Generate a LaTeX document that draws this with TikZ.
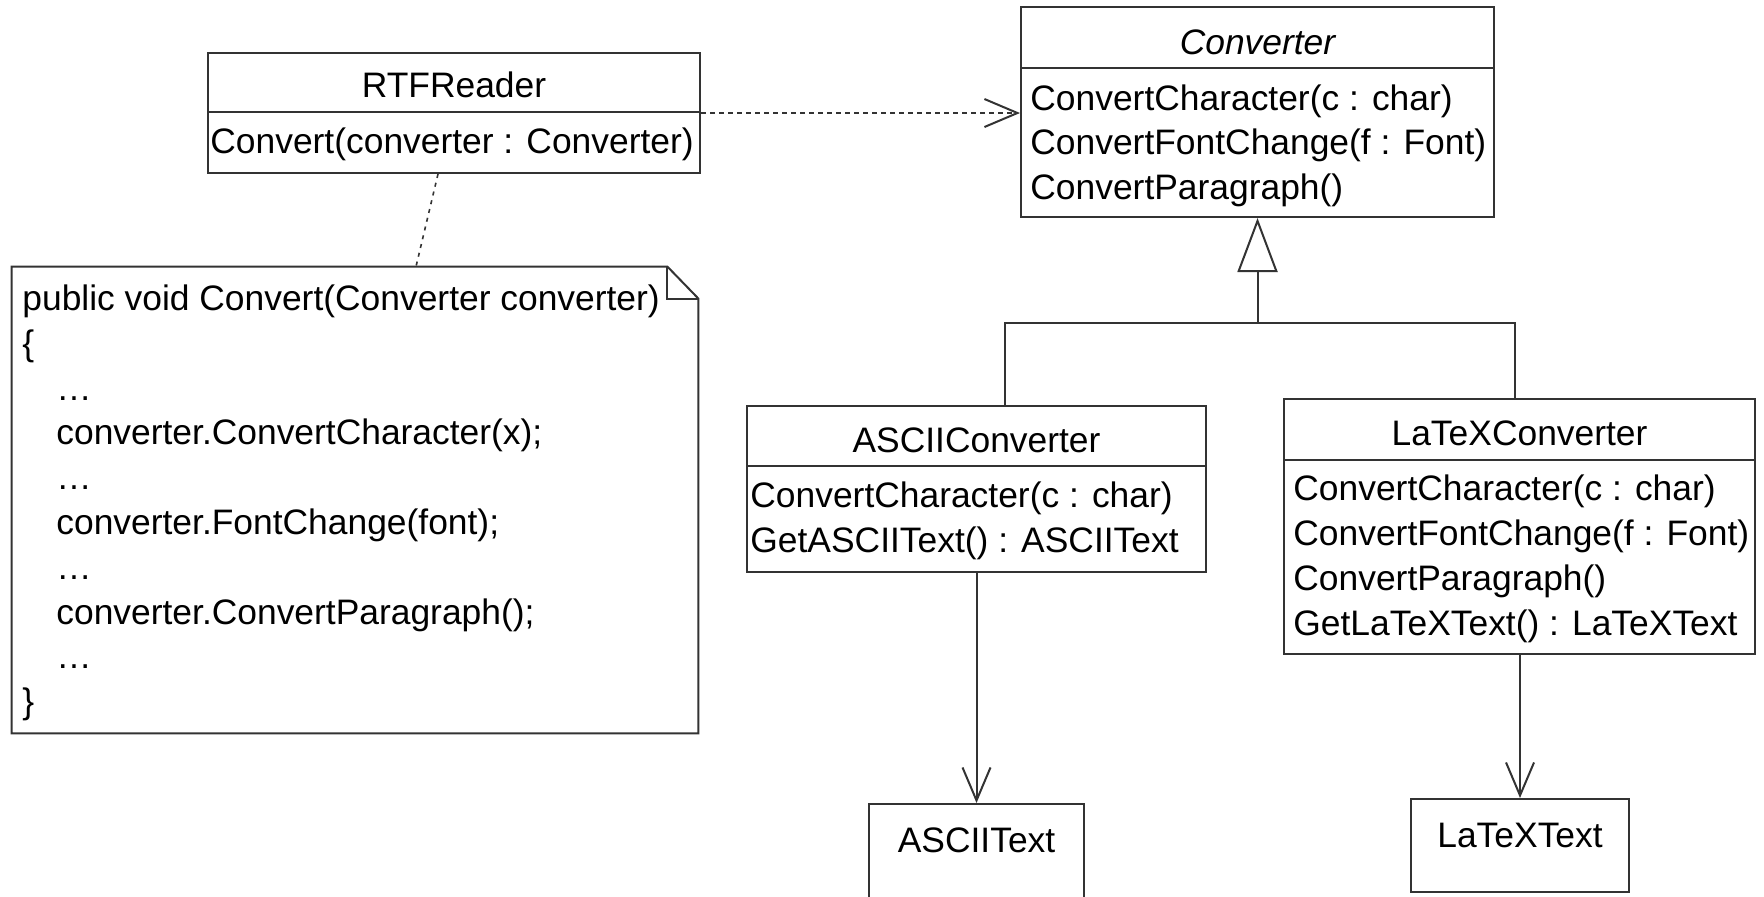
\documentclass[tikz,border=0pt]{standalone}
\usepackage{fontspec}
\setmainfont{Liberation Sans}
\usetikzlibrary{arrows.meta}

\begin{document}
\begin{tikzpicture}[x=0.5pt,y=-0.5pt,
  linec/.style={draw=black!80,line width=1pt},
  cls/.style={linec,rectangle,inner sep=0pt},
  ghost/.style={rectangle,inner sep=0pt},
  mtext/.style={inner sep=0pt,anchor=base west,font=\fontsize{17.7}{22}\selectfont},
  ttext/.style={inner sep=0pt,anchor=base,font=\fontsize{17.7}{22}\selectfont},
  usage/.style={linec,-{Straight Barb[length=16.5pt,width=14pt]}},
  realize/.style={usage,dash pattern=on 2.5pt off 2pt},
  inherit/.style={linec,-{Triangle[open,length=27pt,width=20pt,fill=white]}},
  anchorline/.style={linec,line width=0.8pt,dash pattern=on 2pt off 2.5pt}]

\useasboundingbox (0,0) rectangle (1764,896);
\fill[white] (0,0) rectangle (1764,896);

% ---------- RTFReader ----------
\node[cls,minimum width=246pt,minimum height=60pt] (rtf) at (454,113) {};
\draw[linec] (rtf.west |- 0,112) -- (rtf.east |- 0,112);
\node[ttext] (rtfT) at (454,97) {RTFReader};
\node[mtext] (rtfM) at (210,153) {Convert(converter : Converter)};

% ---------- Converter (abstract) ----------
\node[cls,minimum width=236.5pt,minimum height=105pt] (conv) at (1257.5,112) {};
\draw[linec] (conv.west |- 0,68) -- (conv.east |- 0,68);
\node[ttext] (convT) at (1257.5,54) {\itshape Converter};
\node[mtext] (convM1) at (1030,110) {ConvertCharacter(c : char)};
\node[mtext] (convM2) at (1030,154) {ConvertFontChange(f : Font)};
\node[mtext] (convM3) at (1030,199) {ConvertParagraph()};

% ---------- ASCIIConverter ----------
\node[cls,minimum width=229.5pt,minimum height=83pt] (asciic) at (976.5,489) {};
\draw[linec] (asciic.west |- 0,466) -- (asciic.east |- 0,466);
\node[ttext] (asciicT) at (976.5,452) {ASCIIConverter};
\node[mtext] (asciicM1) at (750,507) {ConvertCharacter(c : char)};
\node[mtext] (asciicM2) at (750,552) {GetASCIIText() : ASCIIText};

% ---------- LaTeXConverter ----------
\node[cls,minimum width=235.5pt,minimum height=127.5pt] (latexc) at (1519.5,526.5) {};
\draw[linec] (latexc.west |- 0,460) -- (latexc.east |- 0,460);
\node[ttext] (latexcT) at (1519.5,445) {LaTeXConverter};
\node[mtext] (latexcM1) at (1293,500) {ConvertCharacter(c : char)};
\node[mtext] (latexcM2) at (1293,545) {ConvertFontChange(f : Font)};
\node[mtext] (latexcM3) at (1293,590) {ConvertParagraph()};
\node[mtext] (latexcM4) at (1293,635) {GetLaTeXText() : LaTeXText};

% ---------- product classes ----------
\node[cls,minimum width=107.5pt,minimum height=50.5pt] (asciit) at (976.5,854.5) {};
\node[ttext] (asciitT) at (976.5,852) {ASCIIText};
\node[cls,minimum width=109pt,minimum height=46.5pt] (latext) at (1520,845.5) {};
\node[ttext] (latextT) at (1520,847) {LaTeXText};

% ---------- note with folded corner ----------
\node[ghost,minimum width=343pt,minimum height=233pt] (note) at (355,500) {};
\draw[linec,fill=white]
  (note.north west) -- ([xshift=-15.5pt]note.north east)
  -- ([yshift=-16pt]note.north east) -- (note.south east)
  -- (note.south west) -- cycle;
\draw[linec] ([xshift=-15.5pt]note.north east) -- ([xshift=-15.5pt,yshift=-16pt]note.north east)
  -- ([yshift=-16pt]note.north east);

\node[mtext] (n1) at (22,310) {public void Convert(Converter converter)};
\node[mtext] (n2) at (22,355) {\{};
\node[mtext] (n3) at (56,400) {…};
\node[mtext] (n4) at (56,444) {converter.ConvertCharacter(x);};
\node[mtext] (n5) at (56,489) {…};
\node[mtext] (n6) at (56,534) {converter.FontChange(font);};
\node[mtext] (n7) at (56,579) {…};
\node[mtext] (n8) at (56,624) {converter.ConvertParagraph();};
\node[mtext] (n9) at (56,668) {…};
\node[mtext] (n10) at (22,713) {\}};

% ---------- connectors ----------
\draw[anchorline] ([xshift=-8pt]rtf.south) -- ([xshift=30.5pt]note.north);
\draw[realize] (rtf.east) -- (conv.west |- rtf.east);

\coordinate (jA) at (1005,323);
\coordinate (jL) at (1515,323);
\coordinate (jC) at (1257.5,323);
\draw[linec] (asciic.north -| jA) -- (jA) -- (jL) -- (latexc.north -| jL);
\draw[inherit] (jC) -- (conv.south);

\draw[usage] (asciic.south) -- (asciit.north);
\draw[usage] (latexc.south -| latext.north) -- (latext.north);
\end{tikzpicture}
\end{document}
